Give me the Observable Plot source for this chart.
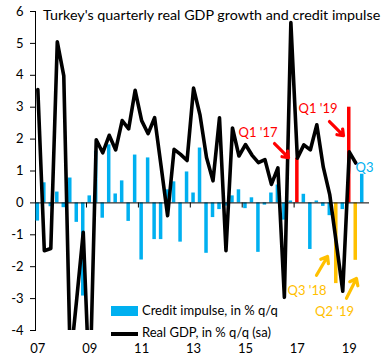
<!DOCTYPE html>
<html><head><meta charset="utf-8">
<script src="https://cdn.jsdelivr.net/npm/d3@7"></script>
<script src="https://cdn.jsdelivr.net/npm/@observablehq/plot@0.6"></script>
<style>
body{margin:0;background:#fff;}
#wrap{position:relative;width:384px;height:359px;font-family:Lato,"Open Sans",sans-serif;color:#000;}
.ov{position:absolute;white-space:nowrap;line-height:1;}
</style></head><body><div id="wrap"></div>
<script>
const quarters = [
 "2007Q1","2007Q2","2007Q3","2007Q4","2008Q1","2008Q2","2008Q3","2008Q4",
 "2009Q1","2009Q2","2009Q3","2009Q4","2010Q1","2010Q2","2010Q3","2010Q4",
 "2011Q1","2011Q2","2011Q3","2011Q4","2012Q1","2012Q2","2012Q3","2012Q4",
 "2013Q1","2013Q2","2013Q3","2013Q4","2014Q1","2014Q2","2014Q3","2014Q4",
 "2015Q1","2015Q2","2015Q3","2015Q4","2016Q1","2016Q2","2016Q3","2016Q4",
 "2017Q1","2017Q2","2017Q3","2017Q4","2018Q1","2018Q2","2018Q3","2018Q4",
 "2019Q1","2019Q2","2019Q3"];
const creditImpulse = [
 -0.57,0.63,-0.12,0.34,-0.15,0.78,-0.61,-2.92,
 0.22,1.62,-0.48,1.82,0.28,0.69,-0.58,1.5,
 -1.79,1.41,-1.15,-1.15,0.41,0.66,-1.23,0.97,
 0.31,1.72,-1.58,-0.46,-0.21,-0.1,0.22,0.41,
 -0.18,0.16,-1.55,-0.07,0.31,0.56,-0.54,0.06,
 1.4,0.27,-1.46,0.06,-0.11,-0.4,-2.53,-0.21,
 3.0,-1.8,0.9];
const realGDP = [
 3.55,-1.5,-1.43,5.05,3.98,-5.0,-3.0,-0.92,
 -6.0,1.98,1.57,2.12,1.66,2.58,2.32,3.53,
 2.58,2.17,2.67,1.15,-0.4,1.68,1.52,1.33,
 3.6,2.75,1.42,0.69,2.67,-1.5,2.35,1.47,
 1.83,1.5,1.26,1.36,0.58,1.1,-2.96,5.65,
 1.4,1.82,1.66,2.45,1.12,0.25,-1.25,-2.77,
 1.6,1.25];
const redQuarters = ["2017Q1","2019Q1"];
const orangeQuarters = ["2018Q3","2019Q2"];
const yearLabels = ["07","09","11","13","15","17","19"];
const yearQuarters = ["2007Q1","2009Q1","2011Q1","2013Q1","2015Q1","2017Q1","2019Q1"];
const yTicks = [-4,-3,-2,-1,0,1,2,3,4,5,6];

const annoText = ["Q1 '17","Q1 '19","Q3","Q3 '18","Q2 '19"];
const annoQ = [33.93,43.18,50.35,41.49,45.73];
const annoV = [2.21,2.96,1.11,-2.75,-3.4];
const annoColor = ["#FF0000","#FF0000","#00B0F0","#FFC000","#FFC000"];
const annoWeight = ["bold","bold","normal","bold","bold"];

const arrowQ1 = [36.48,44.95,42.95,47.57];
const arrowV1 = [1.86,2.55,-2.27,-2.99];
const arrowQ2 = [38.64,47.11,44.65,49.11];
const arrowV2 = [1.42,2.11,-1.68,-2.37];
const arrowColor = ["#FF0000","#FF0000","#FFC000","#FFC000"];

const titleText = "Turkey's quarterly real GDP growth and credit impulse";
const legendLabels = ["Credit impulse, in % q/q","Real GDP, in % q/q (sa)"];

const BLUE="#00B0F0", RED="#FF0000", ORANGE="#FFC000";
const rows = quarters.map((q,i)=>({i, q, ci: creditImpulse[i], gdp: realGDP[i],
  fill: redQuarters.includes(q) ? RED : orangeQuarters.includes(q) ? ORANGE : BLUE}));
const lineRows = rows.filter(d => d.gdp !== undefined);
const tickIdx = yearQuarters.map(q => quarters.indexOf(q));
const boundaries = tickIdx.slice(1).map(i => i - 0.5);
const annos = annoText.map((t,k)=>({t, x: annoQ[k], y: annoV[k], c: annoColor[k], w: annoWeight[k]}));
const arrows = arrowQ1.map((x,k)=>({x1:x, y1:arrowV1[k], x2:arrowQ2[k], y2:arrowV2[k], c:arrowColor[k]}));

const chart = Plot.plot({
  width:384, height:359,
  marginLeft:35, marginRight:15, marginTop:11, marginBottom:29,
  style:{fontFamily:"Lato, 'Open Sans', sans-serif", fontSize:"13px", color:"#000", background:"#fff", overflow:"visible"},
  color:{type:"identity"},
  x:{type:"linear", domain:[-0.36, 51.12], ticks: tickIdx, tickFormat: i => yearLabels[tickIdx.indexOf(i)], tickSize:0, tickPadding:13, label:null},
  y:{domain:[-4,6], ticks: yTicks, tickFormat: d => String(d), tickSize:5, tickPadding:7, line:true, label:null},
  marks:[
    Plot.rectY(rows, {x1: d => d.i - 0.27, x2: d => d.i + 0.27, y1: 0, y2: "ci", fill: "fill"}),
    Plot.ruleY([0], {stroke:"#000", strokeWidth:1}),
    Plot.ruleX(boundaries, {x: d => d, y1: 0, y2: -0.16, stroke:"#000", strokeWidth:1}),
    Plot.line(lineRows, {x:"i", y:"gdp", stroke:"#000", strokeWidth:3.6, strokeLinejoin:"round", clip:true}),
    Plot.arrow(arrows, {x1:"x1", y1:"y1", x2:"x2", y2:"y2", stroke:"c", strokeWidth:3.2, headLength:8, headAngle:75}),
    Plot.text(annos, {x:"x", y:"y", text:"t", fill:"c", fontWeight:"w", fontSize:13})
  ]
});
const wrap = document.getElementById("wrap");
wrap.appendChild(chart);

function ov(txt, css){ const d=document.createElement("div"); d.className="ov"; d.textContent=txt||""; Object.assign(d.style, css); wrap.appendChild(d); return d; }
ov(titleText, {left:"43px", top:"8px", fontSize:"14.3px"});
ov("", {left:"111px", top:"306px", width:"27px", height:"10px", background:BLUE});
ov(legendLabels[0], {left:"142px", top:"304px", fontSize:"13px"});
ov("", {left:"111px", top:"332px", width:"27px", height:"3.5px", background:"#000"});
ov(legendLabels[1], {left:"142px", top:"326px", fontSize:"13px"});
</script></body></html>
